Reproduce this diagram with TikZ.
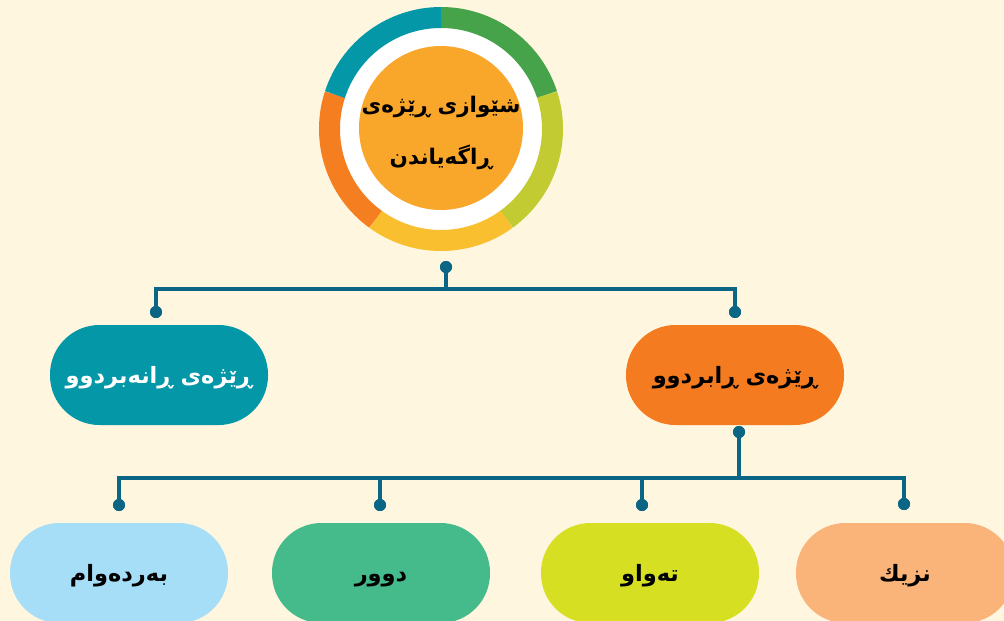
\documentclass[tikz,border=0pt]{standalone}
\usepackage{fontspec}
\newfontfamily\arabicfont[Script=Arabic]{DejaVu Sans}
\TeXXeTstate=1
\definecolor{bgcol}{HTML}{FEF6DF}
\definecolor{conncol}{HTML}{0B6685}
\definecolor{ringgreen}{HTML}{46A34A}
\definecolor{ringlime}{HTML}{C2CC32}
\definecolor{ringyellow}{HTML}{F9BF2E}
\definecolor{ringorange}{HTML}{F47E20}
\definecolor{ringteal}{HTML}{0397A7}
\definecolor{centerorange}{HTML}{F9A72B}
\definecolor{pillteal}{HTML}{0397A7}
\definecolor{pillorange}{HTML}{F47B20}
\definecolor{pillblue}{HTML}{A6DDF7}
\definecolor{pillgreen}{HTML}{45BB8B}
\definecolor{pilllime}{HTML}{D6DF22}
\definecolor{pillpeach}{HTML}{FAB378}
\begin{document}
\begin{tikzpicture}[x=1pt,y=-1pt,
  pill/.style={rectangle, rounded corners=49.5pt, minimum width=218pt, minimum height=100pt, inner sep=0pt,
    text height=20pt, text depth=4pt,
    font=\arabicfont\bfseries\fontsize{22.5}{28}\selectfont},
  dotnode/.style={circle, fill=conncol, inner sep=0pt, minimum size=12pt},
  conn/.style={draw=conncol, line width=4pt},
  ringseg/.style={line width=21pt}]
\fill[bgcol] (0,0) rectangle (1004,621);
\useasboundingbox (0,0) rectangle (1004,621);

% root ring
\node[circle, fill=white, minimum size=204pt, inner sep=0pt] (rootbg) at (441,129) {};
\begin{scope}[shift={(441,129)}]
  \draw[ringseg, ringgreen]  (90:111.5pt)  arc[start angle=90,  end angle=18,   radius=111.5pt];
  \draw[ringseg, ringlime]   (18:111.5pt)  arc[start angle=18,  end angle=-54,  radius=111.5pt];
  \draw[ringseg, ringyellow] (-54:111.5pt) arc[start angle=-54, end angle=-126, radius=111.5pt];
  \draw[ringseg, ringorange] (-126:111.5pt) arc[start angle=-126, end angle=-198, radius=111.5pt];
  \draw[ringseg, ringteal]   (162:111.5pt) arc[start angle=162, end angle=90,   radius=111.5pt];
\end{scope}
\node[circle, fill=centerorange, minimum size=164pt, inner sep=0pt] (root) at (441,128) {};
\node[align=center, inner sep=0pt,
  font=\arabicfont\bfseries\fontsize{21.5}{52}\selectfont] (roottext) at (441,133)
  {\beginR شێوازی ڕێژەی\endR\\\beginR ڕاگەیاندن\endR};

% first level connectors
\node[dotnode] (d0) at (446,267) {};
\node[dotnode] (d1) at (156,312) {};
\node[dotnode] (d2) at (735,312) {};
\coordinate (bar1) at (446,289);
\draw[conn] (d0.center) -- (bar1) -| (d1.center);
\draw[conn] (bar1) -| (d2.center);
\node[dotnode] at (d0) {};
\node[dotnode] at (d1) {};
\node[dotnode] at (d2) {};

% middle pills
\node[pill, fill=pillteal, text=white] (m1) at (159,375) {\beginR ڕێژەی ڕانەبردوو\endR};
\node[pill, fill=pillorange, text=black] (m2) at (735,375) {\beginR ڕێژەی ڕابردوو\endR};

% second level connectors
\node[dotnode] (d3) at (739,432) {};
\coordinate (bar2) at (739,478);
\node[dotnode] (e1) at (119,505) {};
\node[dotnode] (e2) at (380,505) {};
\node[dotnode] (e3) at (642,505) {};
\node[dotnode] (e4) at (904,504) {};
\draw[conn] (d3.center) -- (bar2) -| (e1.center);
\draw[conn] (bar2) -| (e4.center);
\draw[conn] (e2.center |- bar2) -- (e2.center);
\draw[conn] (e3.center |- bar2) -- (e3.center);
\node[dotnode] at (d3) {};
\node[dotnode] at (e1) {};
\node[dotnode] at (e2) {};
\node[dotnode] at (e3) {};
\node[dotnode] at (e4) {};

% bottom pills
\node[pill, fill=pillblue]  (b1) at (119,573) {\beginR بەردەوام\endR};
\node[pill, fill=pillgreen] (b2) at (381,573) {\beginR دوور\endR};
\node[pill, fill=pilllime]  (b3) at (650,573) {\beginR تەواو\endR};
\node[pill, fill=pillpeach] (b4) at (905,573) {\beginR نزیك\endR};
\end{tikzpicture}
\end{document}
